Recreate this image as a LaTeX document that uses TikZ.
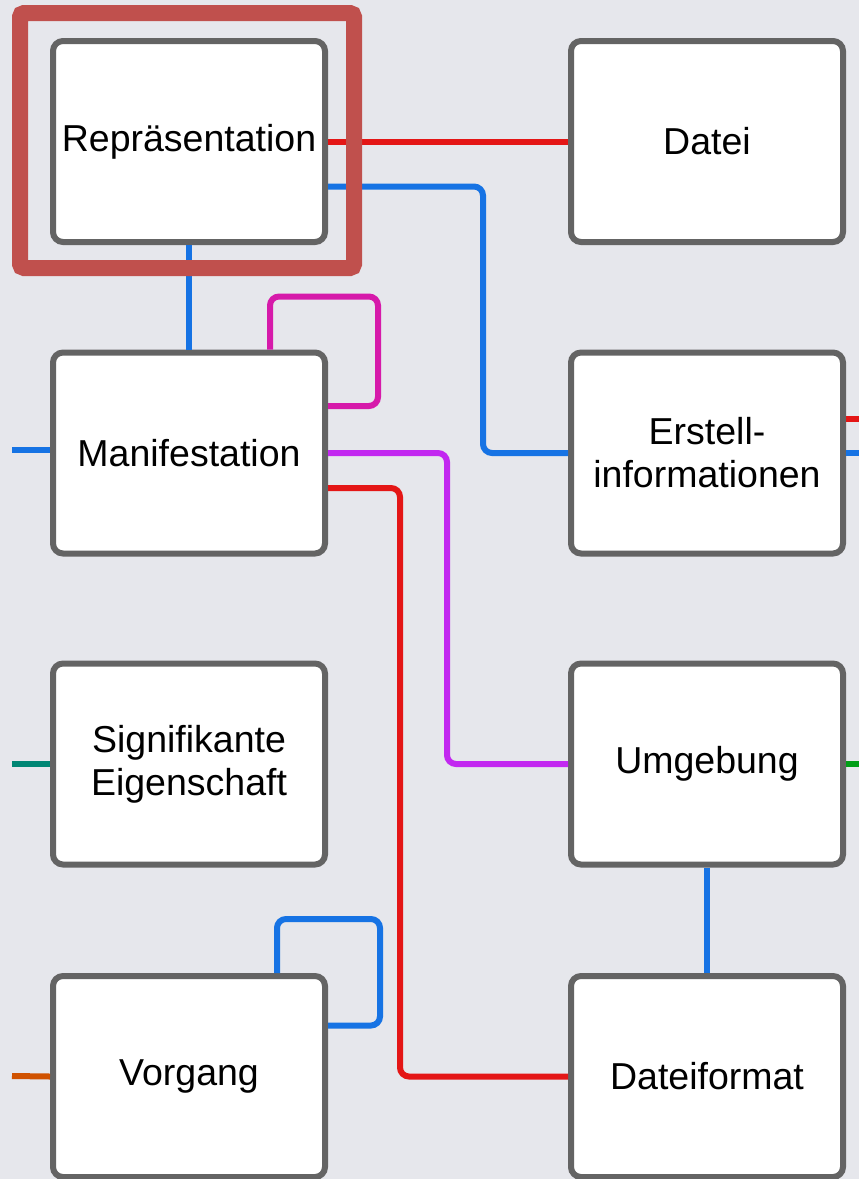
\documentclass[tikz,border=0pt]{standalone}
\usepackage{fontspec}
\setmainfont{Liberation Sans}
\usepackage{xcolor}
\usetikzlibrary{positioning}
\definecolor{hgrund}{RGB}{230,231,236}
\definecolor{rahmen}{RGB}{100,100,100}
\definecolor{rot}{RGB}{228,22,22}
\definecolor{blau}{RGB}{22,115,228}
\definecolor{magenta}{RGB}{214,26,170}
\definecolor{lila}{RGB}{194,40,240}
\definecolor{teal}{RGB}{0,134,116}
\definecolor{orange}{RGB}{208,82,0}
\definecolor{gruen}{RGB}{0,158,22}
\definecolor{markiert}{RGB}{192,80,77}

\begin{document}
\begin{tikzpicture}[x=1pt,y=-1pt,
	kasten/.style={draw=rahmen, fill=white, line width=6pt, rounded corners=10pt,
		minimum width=272pt, minimum height=201pt, align=center,
		font=\fontsize{37.5}{43}\selectfont},
	linie/.style={line width=6pt, rounded corners=9pt}]
	\fill [hgrund] (0,0) rectangle (859,1179);
	\useasboundingbox (0,0) rectangle (859,1179);
	% linke Spalte
	\node [kasten] (rep) at (189,141.5) {Repräsentation};
	\node [kasten] (man) at (189,453) {Manifestation};
	\node [kasten] (sig) at (189,764) {Signifikante\\Eigenschaft};
	\node [kasten] (vor) at (189,1076.5) {Vorgang};
	% rechte Spalte
	\node [kasten] (dat) at (707,141.5) {Datei};
	\node [kasten] (ers) at (707,453) {Erstell-\\informationen};
	\node [kasten] (umg) at (707,764) {Umgebung};
	\node [kasten] (dfo) at (707,1076.5) {Dateiformat};
	% freie Enden am Rand
	\coordinate (manL) at (12,450);
	\coordinate (sigL) at (12,764);
	\coordinate (vorL) at (12,1076);
	\coordinate (ersR1) at (859,419);
	\coordinate (ersR2) at (859,453);
	\coordinate (umgR) at (859,764);
	% Verbindungen
	\draw [linie, rot] (rep.east) -- (dat.west);
	\draw [linie, blau] ([yshift=-45pt]rep.east) -- ++(155,0) |- (ers.west);
	\draw [linie, blau] (rep.south) -- (man.north);
	\draw [linie, magenta] ([xshift=81pt]man.north) -- ++(0,-53) -- ++(108,0) |- ([yshift=47pt]man.east);
	\draw [linie, lila] (man.east) -- ++(119,0) |- (umg.west);
	\draw [linie, rot] ([yshift=-35pt]man.east) -- ++(72,0) |- (dfo.west);
	\draw [linie, blau] (man.west |- manL) -- (manL);
	\draw [linie, teal] (sig.west) -- (sigL);
	\draw [linie, orange] (vor.west) -- (vorL);
	\draw [linie, blau] ([xshift=88pt]vor.north) -- ++(0,-54) -- ++(103,0) |- ([yshift=51pt]vor.east);
	\draw [linie, blau] (umg.south) -- (dfo.north);
	\draw [linie, rot] (ers.east |- ersR1) -- (ersR1);
	\draw [linie, blau] (ers.east) -- (ersR2);
	\draw [linie, gruen] (umg.east) -- (umgR);
	% Markierung
	\draw [markiert, line width=16pt, rounded corners=4pt] (20,13) rectangle (354,268);
\end{tikzpicture}
\end{document}
